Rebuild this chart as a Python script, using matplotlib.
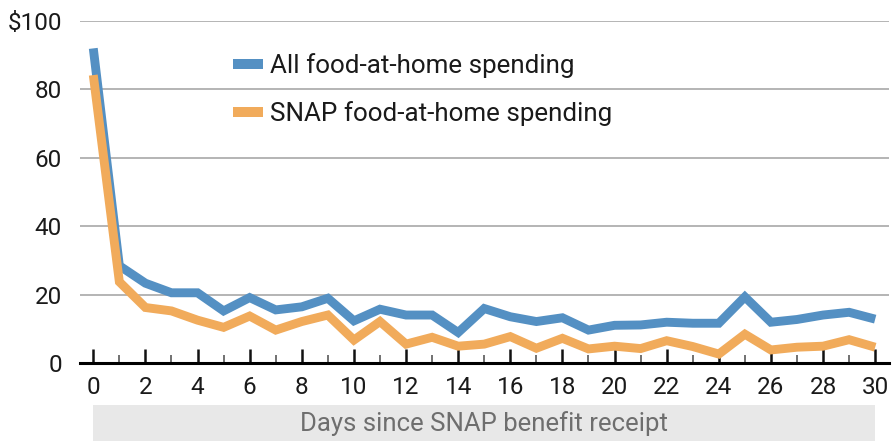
import matplotlib
matplotlib.use("Agg")
import matplotlib.pyplot as plt
from matplotlib.patches import Rectangle

plt.rcParams['font.family'] = ['Roboto', 'DejaVu Sans']

days = list(range(31))
all_food = [92.0, 28.5, 23.4, 20.6, 20.6, 15.3, 19.2, 15.6, 16.5, 19.0,
            12.4, 15.8, 14.1, 14.1, 9.0, 16.0, 13.6, 12.2, 13.3, 9.7,
            11.1, 11.2, 12.0, 11.7, 11.7, 19.4, 12.0, 12.8, 14.1, 14.9, 12.9]
snap_food = [84.2, 23.8, 16.3, 15.3, 12.6, 10.5, 13.8, 9.7, 12.2, 14.1,
             6.8, 12.2, 5.6, 7.6, 5.0, 5.6, 7.8, 4.4, 7.3, 4.2,
             5.0, 4.3, 6.6, 4.9, 2.7, 8.5, 3.9, 4.7, 5.0, 6.9, 4.7]
series_labels = ["All food-at-home spending", "SNAP food-at-home spending"]
y_ticks = [0, 20, 40, 60, 80, 100]
y_tick_labels = ["0", "20", "40", "60", "80", "$100"]
x_major = list(range(0, 31, 2))
x_minor = list(range(1, 31, 2))
x_title = "Days since SNAP benefit receipt"

blue = "#5490c3"
orange = "#f1ab5b"

fig = plt.figure(figsize=(8.94, 4.41), dpi=100)
ax = fig.add_axes([80 / 894, (441 - 363.3) / 441, 809 / 894, (363.3 - 21) / 441])

ax.plot(days, all_food, color=blue, lw=6.4, solid_joinstyle='miter',
        solid_capstyle='butt', label=series_labels[0], zorder=3, clip_on=False)
ax.plot(days, snap_food, color=orange, lw=6.4, solid_joinstyle='miter',
        solid_capstyle='butt', label=series_labels[1], zorder=4, clip_on=False)

ax.set_xlim(-0.51, 30.53)
ax.set_ylim(0, 100)

ax.set_yticks(y_ticks)
ax.set_yticklabels(y_tick_labels)
ax.yaxis.grid(True, color="#b4b4b4", lw=1.4)
ax.set_axisbelow(True)

ax.set_xticks(x_major)
ax.set_xticks(x_minor, minor=True)
ax.tick_params(axis='x', which='major', direction='in', length=10, width=1.8,
               color='#111111', labelsize=17.5, pad=9)
ax.tick_params(axis='x', which='minor', direction='in', length=6, width=1.3,
               color='#666666')
ax.tick_params(axis='y', which='both', length=0, labelsize=17.5, pad=13)
for lbl in ax.get_xticklabels() + ax.get_yticklabels():
    lbl.set_color('#1a1a1a')

for side in ('top', 'right', 'left'):
    ax.spines[side].set_visible(False)
ax.spines['bottom'].set_color('#000000')
ax.spines['bottom'].set_linewidth(2.2)
ax.spines['bottom'].set_zorder(5)

# Grey band behind the x-axis title
band_left = ax.transData.transform((0, 0))[0] / fig.bbox.width
band_right = ax.transData.transform((30, 0))[0] / fig.bbox.width
fig.patches.append(Rectangle((band_left, 0), band_right - band_left, 36 / 441,
                             transform=fig.transFigure, facecolor='#e8e8e8',
                             edgecolor='none', zorder=0))
fig.text((band_left + band_right) / 2, 17 / 441, x_title, ha='center',
         va='center', fontsize=18.5, color='#6e6e6e')

leg = ax.legend(loc='upper left', bbox_to_anchor=(233 / 894, (441 - 53) / 441),
                bbox_transform=fig.transFigure, frameon=False, fontsize=18.7,
                handlelength=1.15, handletextpad=0.27, labelspacing=0.9,
                borderpad=0, borderaxespad=0)
for h in leg.get_lines():
    h.set_linewidth(7.2)
for t in leg.get_texts():
    t.set_color('#1a1a1a')

fig.savefig("out.png", dpi=100)
